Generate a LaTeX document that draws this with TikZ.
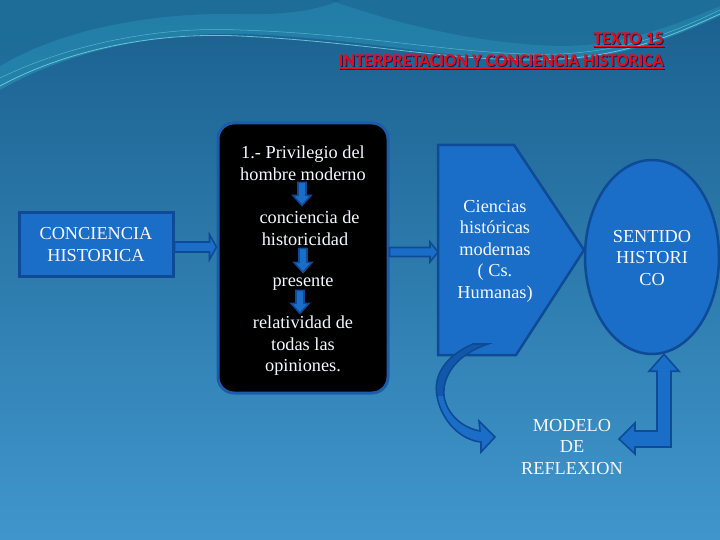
\documentclass[tikz,border=0pt]{standalone}
\usepackage{fontspec}
\setmainfont{Liberation Serif}
\newfontfamily\titlefont{Carlito}
\usetikzlibrary{shapes.geometric,calc}
\definecolor{bgtop}{RGB}{26,96,142}
\definecolor{bgbot}{RGB}{64,150,204}
\definecolor{boxblue}{RGB}{26,110,200}
\definecolor{edgeblue}{RGB}{14,74,150}
\definecolor{blkedge}{RGB}{28,92,170}
\definecolor{teal1}{RGB}{40,150,185}
\definecolor{wline}{RGB}{120,215,230}
\definecolor{titlered}{RGB}{232,12,22}
\definecolor{txt}{RGB}{245,248,255}
\tikzset{
  bodytext/.style={text=txt, align=center, inner sep=0pt, font=\fontsize{18.3}{21.5}\selectfont},
  lbox/.style={rectangle, fill=boxblue, draw=edgeblue, line width=3pt, minimum width=154pt, minimum height=63pt, bodytext},
  blkbox/.style={rectangle, rounded corners=16pt, fill=black, draw=blkedge, line width=3pt, minimum width=170pt, minimum height=270pt},
  shape3/.style={fill=boxblue, draw=edgeblue, line width=2.5pt, line join=miter},
  ell/.style={ellipse, fill=boxblue, draw=edgeblue, line width=2.5pt, minimum width=134pt, minimum height=194pt, inner sep=0pt},
  barrow/.style={fill=boxblue, draw=edgeblue, line width=1.6pt, line join=miter},
  ttl/.style={font=\titlefont\bfseries\fontsize{18}{20}\selectfont, text=titlered, anchor=east, inner sep=0pt},
  ttlsh/.style={ttl, text=black!70!blue, opacity=0.7}
}
\newcommand\harrow[5]{\draw[barrow] let \p1=(#1), \p2=(#2) in
  (\x1,\y1+#3) -- (\x2-#5,\y1+#3) -- (\x2-#5,\y1+#4) -- (\x2,\y1) -- (\x2-#5,\y1-#4) -- (\x2-#5,\y1-#3) -- (\x1,\y1-#3) -- cycle;}
\newcommand\varrow[5]{\draw[barrow] let \p1=(#1), \p2=(#2) in
  (\x1-#3,\y1) -- (\x1+#3,\y1) -- (\x1+#3,\y2+#5) -- (\x1+#4,\y2+#5) -- (\x1,\y2) -- (\x1-#4,\y2+#5) -- (\x1-#3,\y2+#5) -- cycle;}
\begin{document}
\begin{tikzpicture}[x=1pt,y=-1pt]
\useasboundingbox (0,0) rectangle (720,540);
% background
\shade[top color=bgtop, bottom color=bgbot] (0,0) rectangle (720,540);
\fill[teal1, opacity=0.55] (0,90) .. controls (70,50) and (160,32) .. (240,34) .. controls (370,38) and (470,64) .. (560,60) .. controls (630,57) and (680,34) .. (720,16) -- (720,0) -- (0,0) -- cycle;
\fill[bgtop, opacity=0.55] (0,0) -- (0,66) .. controls (60,30) and (150,12) .. (240,14) .. controls (300,16) and (330,5) .. (340,0) -- cycle;
\fill[bgtop, opacity=0.5] (330,0) .. controls (400,25) and (480,44) .. (560,46) .. controls (620,46) and (670,27) .. (720,6) -- (720,0) -- cycle;
\draw[wline, line width=0.8pt, opacity=0.8] (0,86) .. controls (70,48) and (160,32) .. (240,36) .. controls (370,42) and (470,65) .. (560,59) .. controls (630,55) and (680,32) .. (720,14);
\draw[wline, line width=0.5pt, opacity=0.6] (0,78) .. controls (70,44) and (160,26) .. (240,30) .. controls (370,34) and (470,57) .. (560,54) .. controls (640,50) and (690,24) .. (720,10);
% title
\node[ttlsh] (tsh1) at (665,41) {\underline{TEXTO 15}};
\node[ttlsh] (tsh2) at (665,63) {\underline{INTERPRETACION Y CONCIENCIA HISTORICA}};
\node[ttl] (t15) at (664,40) {\underline{TEXTO 15}};
\node[ttl] (tint) at (664,62) {\underline{INTERPRETACION Y CONCIENCIA HISTORICA}};
% left box
\node[lbox] (ch) at (96,244.5) {CONCIENCIA\\HISTORICA};
% black box
\node[blkbox] (bk) at (303,258) {};
\node[bodytext] (t1) at (303,163) {1.- Privilegio del\\hombre moderno};
\node[bodytext] (t2) at (305,228) {\ \ conciencia de\\historicidad};
\node[bodytext] (t3) at (303,283) {presente};
\node[bodytext] (t4) at (303,346) {relatividad de\\todas las\\opiniones.};
% pentagon
\coordinate (pnw) at (438,145);
\coordinate (pne) at (514,145);
\coordinate (ptip) at (584,250);
\coordinate (pse) at (516,355);
\coordinate (psw) at (438,355);
\coordinate (pw) at (438,252);
\draw[shape3] (pnw) -- (pne) -- (ptip) -- (pse) -- (psw) -- cycle;
\node[bodytext] (ci) at (495,251) {Ciencias\\históricas\\modernas\\( Cs.\\Humanas)};
% ellipse
\node[ell] (sh) at (652,257) {};
\node[bodytext] (sht) at (652,258) {SENTIDO\\HISTORI\\CO};
% modelo
\node[bodytext] (mr) at (572,447) {MODELO\\DE\\REFLEXION};
% arrows
\harrow{$(ch.east)+(0,2.5)$}{$(bk.west)+(0,-11)$}{5pt}{12.5pt}{7pt}
\harrow{$(bk.east)+(0,-6)$}{pw}{4.5pt}{10pt}{8pt}
\varrow{$(t1.south)+(-1,2)$}{$(t1.south)+(-1,25)$}{4pt}{9pt}{10pt}
\varrow{$(t2.south)+(-2,3)$}{$(t2.south)+(-2,27)$}{4pt}{9pt}{10pt}
\varrow{$(t3.south)+(-3,0)$}{$(t3.south)+(-3,23)$}{4pt}{9pt}{10pt}
% curved arrow
\coordinate (cs) at (480,344);
\coordinate (ce) at (495,437);
\draw[barrow] (473,344) .. controls (445,356) and (433,376) .. (437,396) .. controls (441,420) and (460,440) .. (481,442) -- (481,452) -- (ce) -- (479,421) -- (480,431) .. controls (463,428) and (447,415) .. (444,396) .. controls (442,373) and (460,353) .. (488,344) -- cycle;
\fill[edgeblue, opacity=0.6] (473,344) .. controls (445,356) and (433,376) .. (437,396) -- (444,396) .. controls (442,373) and (460,353) .. (488,344) -- cycle;
% bent arrow
\coordinate (bup) at ($(sh.south)+(12,-1)$);
\coordinate (blt) at ($(mr.east)+(-4,-8)$);
\draw[barrow] let \p1=(bup), \p2=(blt) in
  (bup) -- (\x1+15pt,\y1-17pt) -- (\x1+7pt,\y1-17pt) -- (\x1+7pt,\y2-8pt) -- (\x2+16pt,\y2-8pt) -- (\x2+16pt,\y2-15pt) -- (blt) -- (\x2+16pt,\y2+16pt) -- (\x2+16pt,\y2+8pt) -- (\x1-7pt,\y2+8pt) -- (\x1-7pt,\y1-17pt) -- (\x1-15pt,\y1-17pt) -- cycle;
\end{tikzpicture}
\end{document}
